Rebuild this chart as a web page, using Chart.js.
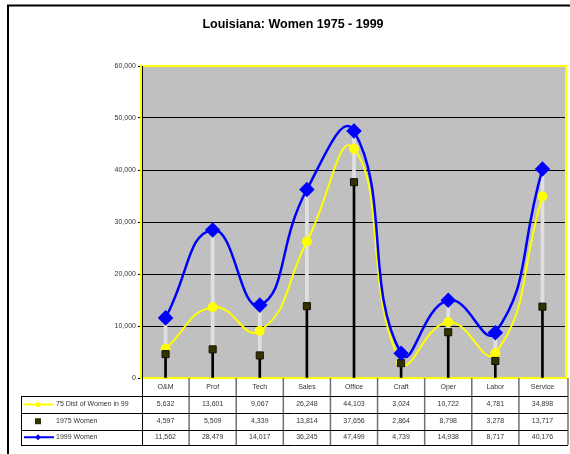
<!DOCTYPE html>
<html lang="en">

<head>
    <meta charset="UTF-8">
    <script src="https://cdn.jsdelivr.net/npm/chart.js@4.4.0/dist/chart.umd.min.js"></script>
    <style>
        body {
            margin: 0;
            background: #fff;
            overflow: hidden;
        }

        canvas {
            display: block;
        }
    </style>
</head>

<body>
    <canvas id="chart" width="570" height="454"></canvas>
    <script>
        const title = 'Louisiana: Women 1975 - 1999';
        const categories = ['O&M', 'Prof', 'Tech', 'Sales', 'Office', 'Craft', 'Oper', 'Labor', 'Service'];
        const dist75 = [5632, 13601, 9067, 26248, 44103, 3024, 10722, 4781, 34898];
        const women1975 = [4597, 5509, 4339, 13814, 37656, 2864, 8798, 3278, 13717];
        const women1999 = [11562, 28479, 14017, 36245, 47499, 4739, 14938, 8717, 40176];
        const seriesNames = ['75 Dist of Women in 99', '1975 Women', '1999 Women'];

        const FONT = '"Liberation Sans", Arial, sans-serif';
        const fmt = v => v.toLocaleString('en-US');

        // background, frame, title, plot border and the data table underneath
        const frame = {
            id: 'frame',
            beforeDraw(chart) {
                const { ctx, chartArea: a } = chart;
                ctx.save();
                ctx.fillStyle = '#fff';
                ctx.fillRect(0, 0, chart.width, chart.height);
                ctx.fillStyle = '#C0C0C0';
                ctx.fillRect(a.left, a.top, a.right - a.left, a.bottom - a.top);
                ctx.strokeStyle = '#000';
                ctx.lineWidth = 2;
                ctx.beginPath();
                ctx.moveTo(8, chart.height);
                ctx.lineTo(8, 5.5);
                ctx.lineTo(chart.width, 5.5);
                ctx.stroke();
                ctx.fillStyle = '#000';
                ctx.font = 'bold 12.5px ' + FONT;
                ctx.textAlign = 'center';
                ctx.textBaseline = 'middle';
                ctx.fillText(title, 293, 25);
                ctx.restore();
            },
            beforeDatasetsDraw(chart) {
                const { ctx, chartArea: a } = chart;
                ctx.save();
                ctx.strokeStyle = '#FFFF00';
                ctx.lineWidth = 2;
                ctx.strokeRect(a.left - 1, a.top, a.right - a.left + 1, a.bottom - a.top);
                ctx.strokeStyle = '#000';
                ctx.lineWidth = 1;
                ctx.beginPath();
                ctx.moveTo(a.left + 0.5, a.top);
                ctx.lineTo(a.left + 0.5, a.bottom);
                ctx.stroke();
                ctx.restore();
            },
            afterDraw(chart) {
                const { ctx, chartArea: a } = chart;
                const xs = chart.scales.x;
                const half = (xs.getPixelForValue(1) - xs.getPixelForValue(0)) / 2;
                const top = a.bottom;
                const rows = [top, top + 18, top + 35, top + 51.5, top + 67];
                const left = 21;
                const right = a.right + 2;
                ctx.save();

                // vertical dividers
                ctx.strokeStyle = '#707070';
                ctx.lineWidth = 1.5;
                categories.forEach((c, i) => {
                    const xr = i === categories.length - 1 ? right : xs.getPixelForValue(i) + half;
                    ctx.beginPath();
                    ctx.moveTo(xr, top);
                    ctx.lineTo(xr, rows[4]);
                    ctx.stroke();
                });
                ctx.strokeStyle = '#000';
                ctx.lineWidth = 1;
                ctx.beginPath();
                ctx.moveTo(a.left + 0.5, top);
                ctx.lineTo(a.left + 0.5, rows[4]);
                ctx.moveTo(left + 0.5, rows[1]);
                ctx.lineTo(left + 0.5, rows[4]);
                for (let r = 1; r < rows.length; r++) {
                    ctx.moveTo(left, Math.round(rows[r]) + 0.5);
                    ctx.lineTo(right, Math.round(rows[r]) + 0.5);
                }
                ctx.stroke();

                // header + values
                ctx.fillStyle = '#333';
                ctx.font = '7px ' + FONT;
                ctx.textAlign = 'center';
                ctx.textBaseline = 'middle';
                const tableRows = [dist75, women1975, women1999];
                categories.forEach((c, i) => {
                    const cx = xs.getPixelForValue(i);
                    ctx.fillText(c, cx, (rows[0] + rows[1]) / 2);
                    tableRows.forEach((vals, r) => {
                        ctx.fillText(fmt(vals[i]), cx, (rows[r + 1] + rows[r + 2]) / 2);
                    });
                });

                // legend keys
                const kx = 38;
                const y0 = (rows[1] + rows[2]) / 2;
                const y1 = (rows[2] + rows[3]) / 2;
                const y2 = (rows[3] + rows[4]) / 2;
                ctx.lineWidth = 2;
                ctx.strokeStyle = '#FFFF00';
                ctx.beginPath();
                ctx.moveTo(24, y0);
                ctx.lineTo(54, y0);
                ctx.stroke();
                ctx.fillStyle = '#FFFF00';
                ctx.beginPath();
                ctx.arc(kx, y0, 2.5, 0, Math.PI * 2);
                ctx.fill();
                ctx.fillStyle = '#333300';
                ctx.fillRect(kx - 3, y1 - 3, 6, 6);
                ctx.strokeStyle = '#0000FF';
                ctx.fillStyle = '#0000FF';
                ctx.beginPath();
                ctx.moveTo(24, y2);
                ctx.lineTo(54, y2);
                ctx.stroke();
                ctx.beginPath();
                ctx.moveTo(kx, y2 - 3);
                ctx.lineTo(kx + 3, y2);
                ctx.lineTo(kx, y2 + 3);
                ctx.lineTo(kx - 3, y2);
                ctx.fill();

                ctx.fillStyle = '#333';
                ctx.textAlign = 'left';
                ctx.fillText(seriesNames[0], 56, y0);
                ctx.fillText(seriesNames[1], 56, y1);
                ctx.fillText(seriesNames[2], 56, y2);
                ctx.restore();
            }
        };

        const ctx = document.getElementById('chart').getContext('2d');
        const myChart = new Chart(ctx, {
            type: 'bar',
            data: {
                labels: categories,
                datasets: [{
                        type: 'line',
                        label: seriesNames[2],
                        data: women1999,
                        borderColor: '#0000FF',
                        backgroundColor: '#0000FF',
                        borderWidth: 2.5,
                        tension: 0.5,
                        pointStyle: 'rectRot',
                        pointRadius: 6,
                        order: 1
                    },
                    {
                        type: 'line',
                        label: seriesNames[1],
                        data: women1975,
                        showLine: false,
                        pointStyle: 'rect',
                        pointRadius: 5,
                        backgroundColor: '#333300',
                        borderColor: '#111100',
                        borderWidth: 1,
                        order: 2
                    },
                    {
                        type: 'line',
                        label: seriesNames[0],
                        data: dist75,
                        borderColor: '#FFFF00',
                        backgroundColor: '#FFFF00',
                        borderWidth: 2,
                        tension: 0.5,
                        pointStyle: 'circle',
                        pointRadius: 4,
                        order: 3
                    },
                    {
                        label: 'drop',
                        data: women1975.map(v => [0, v]),
                        backgroundColor: '#000',
                        barThickness: 2,
                        grouped: false,
                        order: 5
                    },
                    {
                        label: 'hilo',
                        data: women1975.map((v, i) => [v, women1999[i]]),
                        backgroundColor: '#E0E0E0',
                        barThickness: 3,
                        grouped: false,
                        order: 4
                    }
                ]
            },
            options: {
                responsive: false,
                animation: false,
                layout: {
                    autoPadding: false,
                    padding: { left: 0, top: 66, right: 4, bottom: 76 }
                },
                plugins: {
                    legend: { display: false },
                    tooltip: { enabled: false },
                    title: { display: false }
                },
                scales: {
                    x: { display: false },
                    y: {
                        min: 0,
                        max: 60000,
                        afterFit(scale) {
                            scale.width = 142;
                        },
                        ticks: {
                            stepSize: 10000,
                            color: '#333',
                            padding: 2,
                            font: { size: 7, family: FONT },
                            callback: v => fmt(v)
                        },
                        grid: { color: '#000', lineWidth: 1, tickLength: 4, tickColor: '#000' },
                        border: { color: '#000', width: 1 }
                    }
                }
            },
            plugins: [frame]
        });
    </script>
</body>

</html>
